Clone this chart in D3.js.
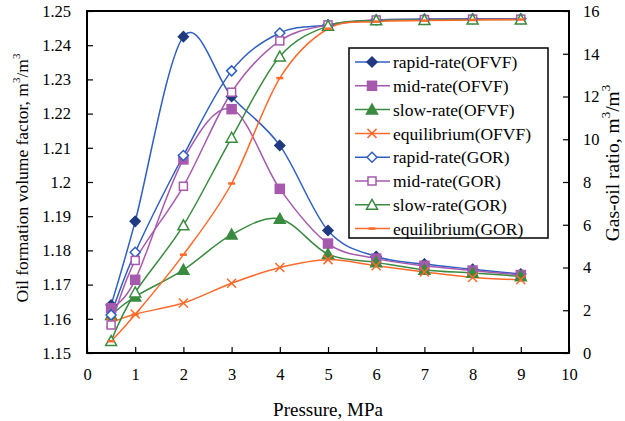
<!DOCTYPE html>
<html><head><meta charset="utf-8">
<script src="https://cdn.jsdelivr.net/npm/d3@7"></script>
<style>body{margin:0;background:#fff} text{font-family:'Liberation Serif','Times New Roman',serif !important;}</style>
</head><body><svg id="c" width="625" height="421"></svg>
<script>
const pressure = [0.5,1,2,3,4,5,6,7,8,9];
const rapidOFVF = [1.164,1.1885,1.2425,1.225,1.2107,1.1858,1.1782,1.176,1.1745,1.1731];
const midOFVF   = [1.1631,1.1714,1.2066,1.2213,1.198,1.182,1.1776,1.1755,1.1741,1.1728];
const slowOFVF  = [1.1611,1.1665,1.1743,1.1846,1.1892,1.1789,1.1765,1.1743,1.1734,1.1724];
const eqOFVF    = [1.1588,1.1614,1.1646,1.1704,1.175,1.1773,1.1755,1.1737,1.1721,1.1714];
const rapidGOR  = [1.78,4.71,9.24,13.2,14.97,15.35,15.58,15.62,15.64,15.64];
const midGOR    = [1.31,4.33,7.8,12.2,14.6,15.35,15.58,15.6,15.62,15.62];
const slowGOR   = [0.56,2.83,5.97,10.07,13.87,15.3,15.56,15.58,15.6,15.6];
const eqGOR     = [0.55,1.8,4.6,7.93,12.86,15.17,15.5,15.55,15.58,15.6];
const xTicks = [0,1,2,3,4,5,6,7,8,9,10];
const leftTicks = [1.15,1.16,1.17,1.18,1.19,1.2,1.21,1.22,1.23,1.24,1.25];
const rightTicks = [0,2,4,6,8,10,12,14,16];

const svg = d3.select("#c");
const L=87,R=569,T=11,B=353;
const x = d3.scaleLinear().domain([0,10]).range([L,R]);
const yL = d3.scaleLinear().domain([1.15,1.25]).range([B,T]);
const yR = d3.scaleLinear().domain([0,16]).range([B,T]);

const C = {blue:"#2f5fc0", navy:"#1f3a80", purple:"#a65aae", green:"#3a8a40", orange:"#ff6a2b"};
const series = [
 {name:"rapid-rate(OFVF)", vals:rapidOFVF, axis:yL, color:C.blue, mcol:C.navy, shape:"diamond", fill:true},
 {name:"mid-rate(OFVF)", vals:midOFVF, axis:yL, color:C.purple, mcol:C.purple, shape:"square", fill:true},
 {name:"slow-rate(OFVF)", vals:slowOFVF, axis:yL, color:C.green, mcol:C.green, shape:"triangle", fill:true},
 {name:"equilibrium(OFVF)", vals:eqOFVF, axis:yL, color:C.orange, mcol:C.orange, shape:"x", fill:false},
 {name:"rapid-rate(GOR)", vals:rapidGOR, axis:yR, color:C.blue, mcol:C.blue, shape:"diamond", fill:false},
 {name:"mid-rate(GOR)", vals:midGOR, axis:yR, color:C.purple, mcol:C.purple, shape:"square", fill:false},
 {name:"slow-rate(GOR)", vals:slowGOR, axis:yR, color:C.green, mcol:C.green, shape:"triangle", fill:false},
 {name:"equilibrium(GOR)", vals:eqGOR, axis:yR, color:C.orange, mcol:C.orange, shape:"dash", fill:false}
];

const fs = "16.5px";
const gx = svg.append("g").attr("transform",`translate(0,${B})`)
  .call(d3.axisBottom(x).tickValues(xTicks).tickSizeInner(-6).tickSizeOuter(0).tickPadding(15).tickFormat(d3.format("d")));
const gl = svg.append("g").attr("transform",`translate(${L},0)`)
  .call(d3.axisLeft(yL).tickValues(leftTicks).tickSizeInner(-6).tickSizeOuter(0).tickPadding(16).tickFormat(d=>String(+d.toFixed(2))));
const gr = svg.append("g").attr("transform",`translate(${R},0)`)
  .call(d3.axisRight(yR).tickValues(rightTicks).tickSizeInner(-6).tickSizeOuter(0).tickPadding(14).tickFormat(d3.format("d")));
[gx,gl,gr].forEach(g=>{
  g.select(".domain").remove();
  g.selectAll("line").attr("stroke","#000").attr("stroke-width",1.2);
  g.selectAll("text").attr("font-size",fs).attr("fill","#000");
});
svg.append("rect").attr("x",L).attr("y",T).attr("width",R-L).attr("height",B-T)
  .attr("fill","none").attr("stroke","#000").attr("stroke-width",2);

const lines = svg.append("g");
series.forEach(s=>{
  const line = d3.line().x((d,i)=>x(pressure[i])).y(d=>s.axis(d)).curve(d3.curveCardinal.tension(0));
  lines.append("path").datum(s.vals).attr("d",line).attr("fill","none")
    .attr("stroke",s.color).attr("stroke-width",1.5);
});

function marker(g,s,cx,cy){
  const sw=1.5;
  const fill = s.fill? s.mcol : "#fff";
  if(s.shape==="diamond"){
    const r=5;
    g.append("path").attr("d",`M${cx},${cy-r}L${cx+r},${cy}L${cx},${cy+r}L${cx-r},${cy}Z`)
      .attr("fill",fill).attr("stroke",s.mcol).attr("stroke-width",sw);
  } else if(s.shape==="square"){
    const r= s.fill?4.5:4;
    g.append("rect").attr("x",cx-r).attr("y",cy-r).attr("width",2*r).attr("height",2*r)
      .attr("fill",fill).attr("stroke",s.mcol).attr("stroke-width",sw);
  } else if(s.shape==="triangle"){
    const r=5.5;
    g.append("path").attr("d",`M${cx},${cy-r}L${cx+r},${cy+r*0.8}L${cx-r},${cy+r*0.8}Z`)
      .attr("fill",fill).attr("stroke",s.mcol).attr("stroke-width",sw);
  } else if(s.shape==="x"){
    const r=4.5;
    g.append("path").attr("d",`M${cx-r},${cy-r}L${cx+r},${cy+r}M${cx-r},${cy+r}L${cx+r},${cy-r}`)
      .attr("stroke",s.mcol).attr("stroke-width",1.5);
  } else {
    g.append("path").attr("d",`M${cx-3.5},${cy}L${cx+3.5},${cy}`).attr("stroke",s.mcol).attr("stroke-width",2.5);
  }
}
series.forEach(s=>{
  const g = svg.append("g");
  s.vals.forEach((v,i)=>marker(g,s,x(pressure[i]),s.axis(v)));
});

const lg = svg.append("g");
lg.append("rect").attr("x",349).attr("y",48).attr("width",199).attr("height",190)
  .attr("fill","#fff").attr("stroke","#000").attr("stroke-width",1.5);
series.forEach((s,i)=>{
  const yy = 62 + i*23.8;
  lg.append("line").attr("x1",355).attr("x2",390).attr("y1",yy).attr("y2",yy)
    .attr("stroke",s.color).attr("stroke-width",1.5);
  marker(lg,s,372,yy);
  lg.append("text").attr("x",393).attr("y",yy).attr("dy","0.35em").attr("font-size","17.5px")
    .attr("fill","#000").text(s.name);
});

svg.append("text").attr("x",(L+R)/2).attr("y",416).attr("text-anchor","middle")
  .attr("font-size","19px").text("Pressure, MPa");
function unitTitle(tx,ty,label,size){
  const t = svg.append("text").attr("transform",`translate(${tx},${ty}) rotate(-90)`)
    .attr("text-anchor","middle").attr("font-size",size+"px");
  const sup = Math.round(size*0.65);
  t.append("tspan").text(label+", m");
  t.append("tspan").attr("dy",-size*0.45).attr("font-size",sup+"px").text("3");
  t.append("tspan").attr("dy",size*0.45).text("/m");
  t.append("tspan").attr("dy",-size*0.45).attr("font-size",sup+"px").text("3");
}
unitTitle(28,178,"Oil formation volume factor",17.5);
unitTitle(619,163,"Gas-oil ratio",19.5);
</script></body></html>
